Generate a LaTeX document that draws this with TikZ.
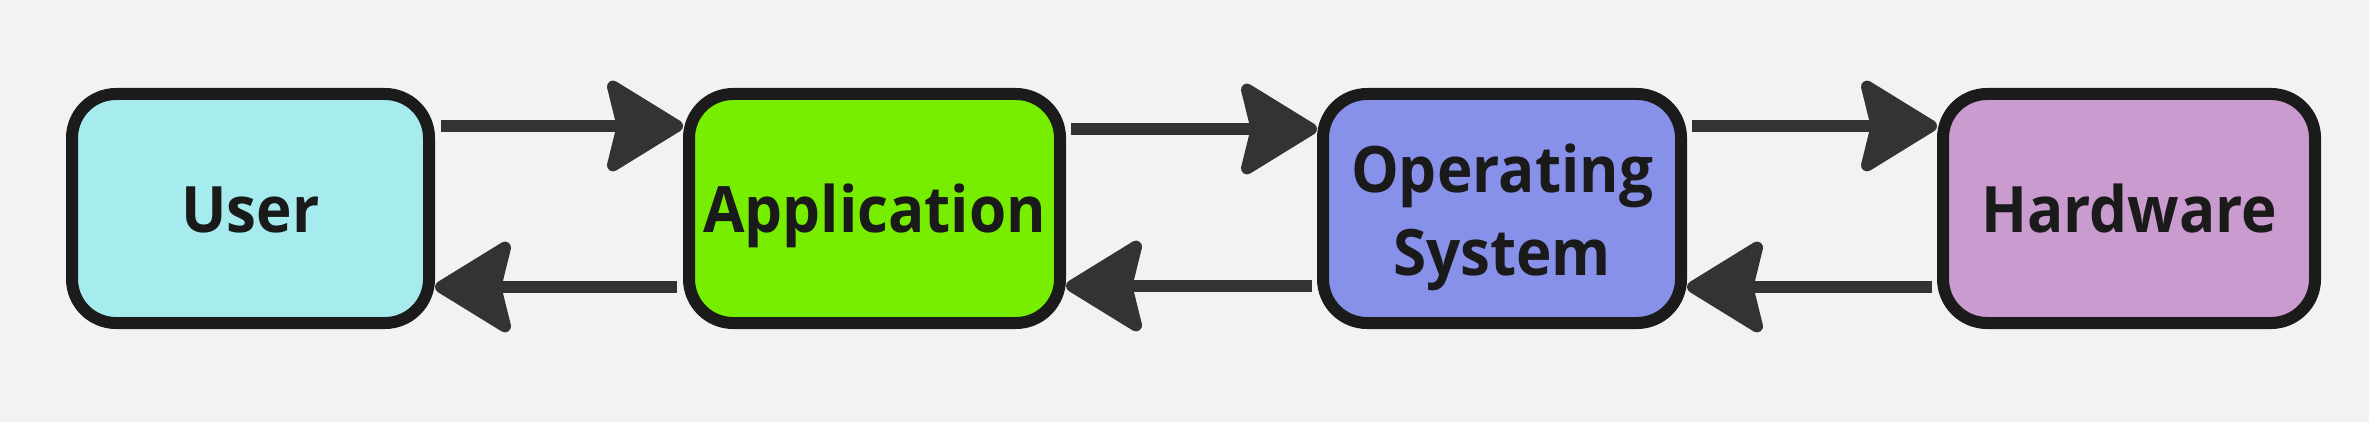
\documentclass[tikz,border=0pt]{standalone}
\usepackage{fontspec}
\setmainfont{Open Sans}[FakeStretch=0.94]
\usetikzlibrary{arrows.meta,calc}
\definecolor{bgc}{HTML}{F2F2F2}
\definecolor{edge}{HTML}{1B1B1B}
\definecolor{arrc}{HTML}{333333}
\definecolor{txt}{HTML}{1A1A1A}
\definecolor{cuser}{HTML}{A6ECEE}
\definecolor{capp}{HTML}{77EE00}
\definecolor{cos}{HTML}{8891EA}
\definecolor{chw}{HTML}{C99BCF}
\begin{document}
\begin{tikzpicture}[x=0.5pt,y=-0.5pt,
  box/.style={draw=edge, line width=6pt, rounded corners=22pt,
    minimum height=114.5pt, text=txt, inner sep=0pt,
    font=\bfseries\fontsize{32pt}{41.5pt}\selectfont,
    text height=24.5pt, text depth=0pt},
  arr/.style={draw=arrc, line width=6pt,
    -{Stealth[length=42pt,width=51pt,inset=6pt,round]}}]
\fill[bgc] (0,0) rectangle (2369,422);
\node[box, fill=cuser, minimum width=178.5pt] (user) at (250.5,208.5) {User};
\node[box, fill=capp, minimum width=185.5pt] (app) at (874.5,208.5) {Application};
\node[box, fill=cos, minimum width=179pt, align=center,
      text height=66.5pt, text depth=0pt] (os) at (1502,208.5) {Operating\\System};
\node[box, fill=chw, minimum width=186pt] (hw) at (2129,208.5) {Hardware};
\draw[arr] ($(user.east)+(6,-82.5)$) -- ($(app.west)+(0,-82.5)$);
\draw[arr] ($(app.west)+(-6,78.5)$) -- ($(user.east)+(0,78.5)$);
\draw[arr] ($(app.east)+(5,-79.5)$) -- ($(os.west)+(0,-79.5)$);
\draw[arr] ($(os.west)+(-5,77.5)$) -- ($(app.east)+(0,77.5)$);
\draw[arr] ($(os.east)+(5,-82.5)$) -- ($(hw.west)+(0,-82.5)$);
\draw[arr] ($(hw.west)+(-5,78.5)$) -- ($(os.east)+(0,78.5)$);
\end{tikzpicture}
\end{document}
